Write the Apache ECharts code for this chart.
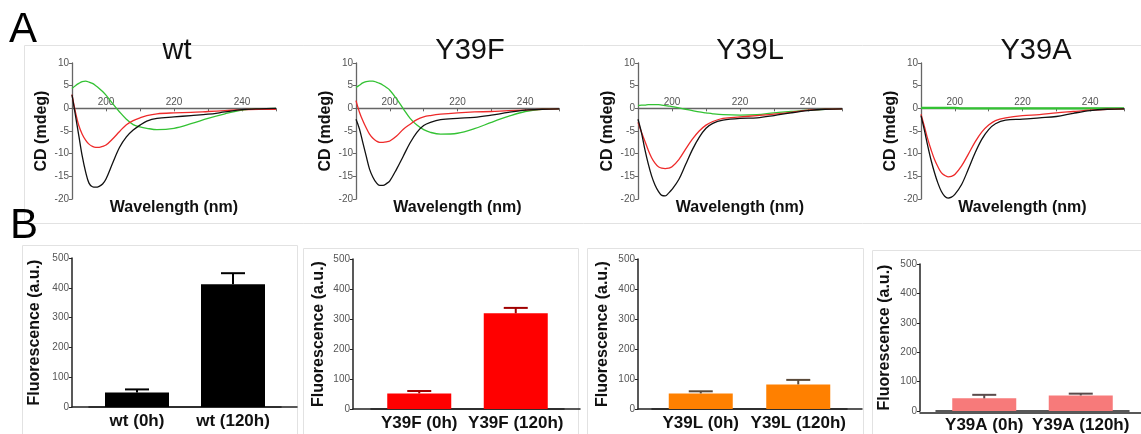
<!DOCTYPE html>
<html>
<head>
<meta charset="utf-8">
<script src="https://cdn.jsdelivr.net/npm/echarts@6/dist/echarts.min.js"></script>
<style>
  html, body { margin: 0; padding: 0; background: #fff; }
  #chart { width: 1141px; height: 434px; }
</style>
</head>
<body>
<div id="chart"></div>
<script>
// Wavelength grid (nm) for the CD spectra
const nm = [190,191,192,193,194,195,196,197,198,199,200,202,204,206,208,210,212,215,220,225,230,235,240,245,250];

// CD spectra (mdeg): black, red and green traces for each variant
const wtBlack   = [3.0,-1.5,-6.0,-10.5,-14.0,-16.5,-17.3,-17.4,-17.2,-16.7,-15.6,-12.0,-8.6,-6.3,-4.8,-3.7,-2.8,-2.2,-1.9,-1.6,-1.3,-0.8,-0.3,-0.1,0.0];
const wtRed     = [3.0,-0.8,-3.8,-5.7,-7.0,-7.9,-8.4,-8.6,-8.6,-8.4,-8.1,-6.7,-5.1,-3.6,-2.7,-2.1,-1.6,-1.2,-1.0,-0.9,-0.7,-0.5,-0.3,-0.2,-0.2];
const wtGreen   = [4.4,5.0,5.5,5.9,6.0,5.8,5.5,5.0,4.4,3.7,2.9,1.0,-0.8,-2.4,-3.6,-4.1,-4.4,-4.7,-4.4,-3.4,-2.2,-1.2,-0.4,-0.1,0.0];

const y39fBlack = [-2.4,-4.5,-7.5,-10.5,-13.4,-15.2,-16.4,-17.0,-17.0,-16.6,-16.0,-13.4,-10.5,-7.6,-5.3,-3.8,-3.1,-2.5,-2.2,-2.0,-1.5,-0.9,-0.4,-0.2,-0.1];
const y39fRed   = [1.7,-0.8,-2.7,-4.3,-5.7,-6.6,-7.2,-7.5,-7.5,-7.4,-7.2,-6.1,-4.6,-3.5,-2.5,-1.9,-1.6,-1.3,-1.0,-0.8,-0.7,-0.5,-0.4,-0.2,-0.1];
const y39fGreen = [4.6,5.1,5.6,5.9,6.0,6.0,5.8,5.5,5.1,4.6,4.0,2.1,-0.1,-2.2,-3.7,-4.7,-5.3,-5.7,-5.5,-4.5,-3.1,-1.8,-0.7,-0.2,-0.1];

const y39lBlack = [-2.4,-5.3,-9.0,-12.2,-14.9,-16.9,-18.3,-19.2,-19.3,-18.7,-17.9,-15.7,-12.4,-9.1,-6.4,-4.4,-3.3,-2.6,-2.2,-2.1,-1.6,-1.0,-0.5,-0.2,-0.1];
const y39lRed   = [-3.1,-5.2,-7.2,-9.2,-10.9,-12.1,-12.9,-13.2,-13.3,-13.2,-12.9,-11.3,-9.0,-6.8,-5.0,-3.7,-2.9,-2.2,-1.9,-1.6,-1.3,-0.9,-0.4,-0.2,-0.1];
const y39lGreen = [0.6,0.7,0.7,0.8,0.8,0.8,0.8,0.7,0.6,0.5,0.4,0.1,-0.2,-0.5,-0.8,-1.0,-1.2,-1.4,-1.5,-1.4,-1.0,-0.7,-0.4,-0.2,-0.1];

const y39aBlack = [-1.6,-4.8,-8.3,-11.5,-14.2,-16.5,-18.3,-19.4,-19.8,-19.6,-19.0,-16.8,-13.4,-9.8,-6.8,-4.7,-3.4,-2.6,-2.4,-2.1,-1.8,-1.1,-0.5,-0.2,-0.1];
const y39aRed   = [-1.3,-4.0,-6.8,-9.2,-11.3,-12.9,-14.2,-14.8,-15.1,-15.0,-14.6,-12.7,-10.1,-7.4,-5.2,-3.7,-2.7,-2.1,-1.6,-1.4,-1.0,-0.7,-0.4,-0.2,-0.1];
const y39aGreen = [0.1,0.1,0.1,0.1,0.1,0.1,0.1,0.1,0.1,0.1,0.1,0.0,0.0,0.0,0.0,0.0,0.0,0.0,0.0,0.0,0.0,0.0,0.0,0.0,0.0];

// Thioflavin fluorescence (a.u.) before and after 120 h, with upper error
const wtCats   = ['wt (0h)', 'wt (120h)'];
const wtFluo   = [49, 412];
const wtErr    = [10, 37];
const y39fCats = ['Y39F (0h)', 'Y39F (120h)'];
const y39fFluo = [52, 319];
const y39fErr  = [8, 18];
const y39lCats = ['Y39L (0h)', 'Y39L (120h)'];
const y39lFluo = [52, 82];
const y39lErr  = [7, 15];
const y39aCats = ['Y39A (0h)', 'Y39A (120h)'];
const y39aFluo = [43, 53];
const y39aErr  = [12, 6];

const FONT = '"Liberation Sans", Arial, Helvetica, sans-serif';

// CD axis ranges
const CD_MIN = -20, CD_MAX = 10;
const CD_TOP = 63, CD_HEIGHT = 136;

// Panel layout
const cdPanels = [
  { title: 'wt',   black: wtBlack,   red: wtRed,   green: wtGreen,   left: 72,  width: 204, titleX: 177 },
  { title: 'Y39F', black: y39fBlack, red: y39fRed, green: y39fGreen, left: 356, width: 203, titleX: 470 },
  { title: 'Y39L', black: y39lBlack, red: y39lRed, green: y39lGreen, left: 638, width: 204, titleX: 750 },
  { title: 'Y39A', black: y39aBlack, red: y39aRed, green: y39aGreen, left: 921, width: 203, titleX: 1036 }
];
const barPanels = [
  { cats: wtCats,   vals: wtFluo,   errs: wtErr,   color: '#000000', errColor: '#000000', left: 89,  width: 192, top: 258, height: 149, offset: 17, lineL: 72,  lineR: 297, nameGap: 29 },
  { cats: y39fCats, vals: y39fFluo, errs: y39fErr, color: '#ff0000', errColor: '#a00000', left: 371, width: 193, top: 259, height: 150, offset: 18, lineL: 353, lineR: 580, nameGap: 26 },
  { cats: y39lCats, vals: y39lFluo, errs: y39lErr, color: '#ff8000', errColor: '#5a4a3a', left: 652, width: 195, top: 259, height: 150, offset: 14, lineL: 638, lineR: 862, nameGap: 27 },
  { cats: y39aCats, vals: y39aFluo, errs: y39aErr, color: '#f77a7a', errColor: '#5a4a4a', left: 936, width: 193, top: 264, height: 149, offset: 16, lineL: 920, lineR: 1141, nameGap: 27 }
];

const grid = [], xAxis = [], yAxis = [], series = [], graphic = [];

// Panel frames
graphic.push({ type: 'rect', z: -10, shape: { x: 24.5, y: 45.5, width: 1130, height: 178 }, style: { fill: 'none', stroke: '#e2e2e2', lineWidth: 1 } });
[[22.5, 245.5, 275], [303.5, 248.5, 275], [587.5, 248.5, 276], [872.5, 250.5, 280]].forEach(([x, y, w]) => {
  graphic.push({ type: 'rect', z: -10, shape: { x: x, y: y, width: w, height: 200 }, style: { fill: 'none', stroke: '#e2e2e2', lineWidth: 1 } });
});

// Panel letters
graphic.push({ type: 'text', style: { text: 'A', x: 23, y: 30, fontSize: 42, fontFamily: FONT, fill: '#000', textAlign: 'center', textVerticalAlign: 'middle' } });
graphic.push({ type: 'text', style: { text: 'B', x: 24, y: 226, fontSize: 42, fontFamily: FONT, fill: '#000', textAlign: 'center', textVerticalAlign: 'middle' } });

// CD spectra
cdPanels.forEach((p) => {
  const gi = grid.length;
  grid.push({ left: p.left, top: CD_TOP, width: p.width, height: CD_HEIGHT });
  xAxis.push({ gridIndex: gi, type: 'value', min: 190, max: 250, interval: 10, show: false });
  yAxis.push({
    gridIndex: gi, type: 'value', min: CD_MIN, max: CD_MAX, interval: 5,
    name: 'CD (mdeg)', nameLocation: 'middle', nameGap: 22,
    nameTextStyle: { fontWeight: 'bold', fontSize: 16, color: '#111', fontFamily: FONT },
    axisLine: { show: true, lineStyle: { color: '#666', width: 1.3 } },
    axisTick: { show: true, length: 3, lineStyle: { color: '#666' } },
    axisLabel: { color: '#555', fontSize: 10, margin: 3, fontFamily: FONT },
    splitLine: { show: false }
  });
  [['#33c233', p.green], ['#ee2a2a', p.red], ['#111111', p.black]].forEach(([col, arr]) => {
    series.push({
      type: 'line', xAxisIndex: gi, yAxisIndex: gi, smooth: 0.35, showSymbol: false, silent: true,
      data: nm.map((w, i) => [w, arr[i]]),
      lineStyle: { color: col, width: p.title === 'Y39A' && col === '#33c233' ? 2.2 : 1.3 },
      z: 3
    });
  });

  // wavelength axis drawn along CD = 0, labels sitting above the line
  const zi = grid.length;
  grid.push({ left: p.left, top: CD_TOP, width: p.width, height: CD_HEIGHT * CD_MAX / (CD_MAX - CD_MIN) });
  xAxis.push({
    gridIndex: zi, type: 'value', min: 190, max: 250, interval: 10, position: 'bottom',
    axisLine: { onZero: false, lineStyle: { color: '#666', width: 1.3 } },
    axisTick: { show: true, length: 3, lineStyle: { color: '#666' } },
    axisLabel: {
      inside: true, margin: 1, color: '#555', fontSize: 10, fontFamily: FONT,
      formatter: (v) => (v % 20 === 0 && v >= 200 && v <= 240) ? String(v) : ''
    },
    splitLine: { show: false }
  });
  yAxis.push({ gridIndex: zi, type: 'value', min: 0, max: 1, show: false });

  graphic.push({ type: 'text', style: { text: p.title, x: p.titleX, y: 51, fontSize: 29, fontFamily: FONT, fill: '#111', textAlign: 'center', textVerticalAlign: 'middle' } });
  graphic.push({ type: 'text', style: { text: 'Wavelength (nm)', x: p.left + p.width / 2, y: 208, fontSize: 16, fontWeight: 'bold', fontFamily: FONT, fill: '#111', textAlign: 'center', textVerticalAlign: 'middle' } });
});

// Fluorescence bar charts
barPanels.forEach((p) => {
  // full-width baseline beneath the bars
  const bi = grid.length;
  grid.push({ left: p.lineL, top: p.top, width: p.lineR - p.lineL, height: p.height });
  xAxis.push({ gridIndex: bi, type: 'value', min: 0, max: 1, axisLine: { lineStyle: { color: '#222', width: 1.5 } }, axisTick: { show: false }, axisLabel: { show: false }, splitLine: { show: false } });
  yAxis.push({ gridIndex: bi, type: 'value', min: 0, max: 1, show: false });

  const gi = grid.length;
  grid.push({ left: p.left, top: p.top, width: p.width, height: p.height });
  xAxis.push({
    gridIndex: gi, type: 'category', data: p.cats,
    axisLine: { lineStyle: { color: '#222', width: 1.5 } },
    axisTick: { alignWithLabel: true, length: 4, lineStyle: { color: '#222', width: 1.3 } },
    axisLabel: { interval: 0, color: '#111', fontWeight: 'bold', fontSize: 17, margin: 6, fontFamily: FONT }
  });
  yAxis.push({
    gridIndex: gi, type: 'value', min: 0, max: 500, interval: 100, offset: p.offset,
    name: 'Fluorescence (a.u.)', nameLocation: 'middle', nameGap: p.nameGap,
    nameTextStyle: { fontWeight: 'bold', fontSize: 16, color: '#111', fontFamily: FONT },
    axisLine: { show: true, lineStyle: { color: '#222', width: 1.5 } },
    axisTick: { show: true, length: 3, lineStyle: { color: '#222' } },
    axisLabel: { color: '#555', fontSize: 10, margin: 3, fontFamily: FONT },
    splitLine: { show: false }
  });
  series.push({
    type: 'bar', xAxisIndex: gi, yAxisIndex: gi, data: p.vals, barWidth: 64, silent: true,
    itemStyle: { color: p.color }
  });
  series.push({
    type: 'custom', xAxisIndex: gi, yAxisIndex: gi, silent: true, z: 5,
    data: p.vals.map((v, i) => [i, v, p.errs[i]]),
    encode: { x: 0, y: 1 },
    renderItem: (params, api) => {
      const c = api.value(0), v = api.value(1), e = api.value(2);
      const base = api.coord([c, v]);
      const top = api.coord([c, v + e]);
      const half = 12;
      const st = { stroke: p.errColor, lineWidth: 2 };
      return {
        type: 'group',
        children: [
          { type: 'line', shape: { x1: base[0], y1: base[1], x2: top[0], y2: top[1] }, style: st },
          { type: 'line', shape: { x1: top[0] - half, y1: top[1], x2: top[0] + half, y2: top[1] }, style: st }
        ]
      };
    }
  });
});

const chart = echarts.init(document.getElementById('chart'), null, { renderer: 'canvas' });
chart.setOption({
  animation: false,
  backgroundColor: '#ffffff',
  textStyle: { fontFamily: FONT },
  grid, xAxis, yAxis, series, graphic
});
</script>
</body>
</html>
